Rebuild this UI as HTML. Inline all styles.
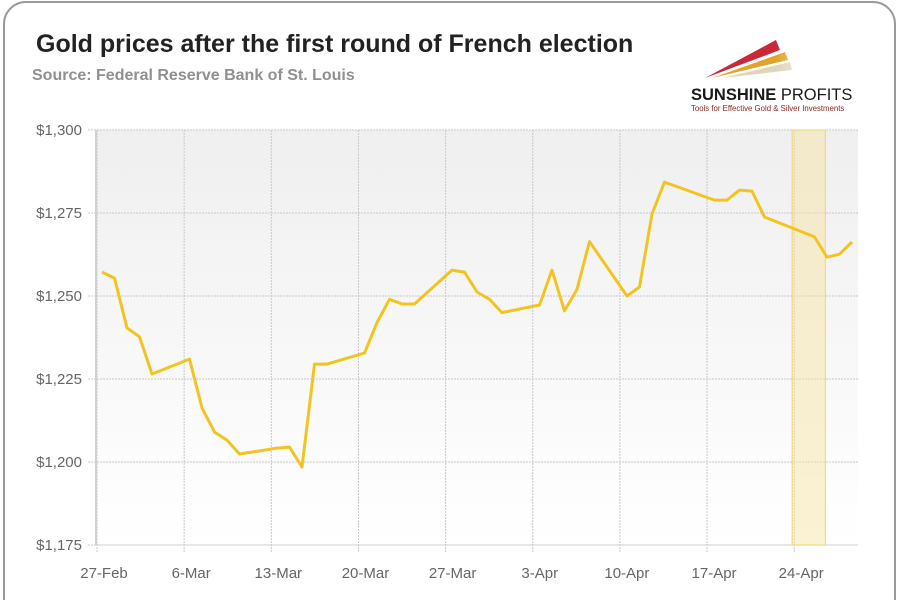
<!DOCTYPE html>
<html><head><meta charset="utf-8"><style>
body{margin:0;background:#fff;width:900px;height:600px;overflow:hidden;font-family:"Liberation Sans",sans-serif}
</style></head><body>
<svg id="chart" width="900" height="600" xmlns="http://www.w3.org/2000/svg">
<defs>
<linearGradient id="bg" x1="0" y1="0" x2="0" y2="1">
<stop offset="0" stop-color="#efefef"/><stop offset="1" stop-color="#ffffff"/>
</linearGradient>
<linearGradient id="fade" x1="0" y1="0" x2="1" y2="0">
<stop offset="0" stop-color="#fff" stop-opacity="0"/><stop offset="1" stop-color="#fff" stop-opacity="1"/>
</linearGradient>
</defs>
<rect x="4" y="2" width="891" height="620" rx="22" fill="#fff" stroke="#9a9a9a" stroke-width="2"/>
<text x="36" y="52" font-size="25" font-weight="bold" fill="#222">Gold prices after the first round of French election</text>
<text x="32" y="80" font-size="16" font-weight="bold" fill="#909090">Source: Federal Reserve Bank of St. Louis</text>
<g>
<polygon points="705,78 776,40 780,50" fill="#c8283a"/>
<polygon points="712,78 785,52 788,60" fill="#e2a32a"/>
<polygon points="722,78 790,62 792,70" fill="#ddd6b8"/>
<rect x="776" y="38" width="60" height="40" fill="url(#fade)"/>
<text x="691" y="100" font-size="16.5" font-weight="bold" fill="#1a1a1a">SUNSHINE <tspan font-weight="normal">PROFITS</tspan></text>
<text x="691" y="111" font-size="7.8" fill="#8a2a20">Tools for Effective Gold &amp; Silver Investments</text>
</g>
<g id="plot"></g>
</svg>
<script>
const dates = ["2017-02-27","2017-02-28","2017-03-01","2017-03-02","2017-03-03","2017-03-06","2017-03-07","2017-03-08","2017-03-09","2017-03-10","2017-03-13","2017-03-14","2017-03-15","2017-03-16","2017-03-17","2017-03-20","2017-03-21","2017-03-22","2017-03-23","2017-03-24","2017-03-27","2017-03-28","2017-03-29","2017-03-30","2017-03-31","2017-04-03","2017-04-04","2017-04-05","2017-04-06","2017-04-07","2017-04-10","2017-04-11","2017-04-12","2017-04-13","2017-04-17","2017-04-18","2017-04-19","2017-04-20","2017-04-21","2017-04-24","2017-04-25","2017-04-26","2017-04-27","2017-04-28"];
const prices = [1257.2,1255.4,1240.4,1237.7,1226.5,1231,1216.3,1209,1206.6,1202.4,1204.2,1204.5,1198.5,1229.5,1229.5,1232.8,1242,1249,1247.6,1247.6,1257.8,1257.2,1251.2,1249,1245,1247.3,1257.8,1245.5,1252,1266.4,1250,1252.7,1274.7,1284.3,1278.9,1278.9,1281.9,1281.6,1273.8,1269.3,1267.8,1261.7,1262.6,1266.3];
const yTicks = [1175,1200,1225,1250,1275,1300];
const yTickLabels = ["$1,175","$1,200","$1,225","$1,250","$1,275","$1,300"];
const xTicks = ["2017-02-27","2017-03-06","2017-03-13","2017-03-20","2017-03-27","2017-04-03","2017-04-10","2017-04-17","2017-04-24"];
const xTickLabels = ["27-Feb","6-Mar","13-Mar","20-Mar","27-Mar","3-Apr","10-Apr","17-Apr","24-Apr"];
const highlight = ["2017-04-23T20:00","2017-04-26T12:00"];

const NS="http://www.w3.org/2000/svg";
const L=96,R=858,T=130,B=545;
const t0=Date.parse("2017-02-27T00:00Z");
function dayOf(s){return (Date.parse(s.length>10?s+"Z":s+"T00:00Z")-t0)/86400000;}
function xs(s){return 97+dayOf(s)*12.45;}
function xp(s){return 102+dayOf(s)*12.5;}
function ys(v){return B-(v-1175)/125*(B-T);}
const g=document.getElementById('plot');
function mk(tag,attrs){const e=document.createElementNS(NS,tag);for(const k in attrs)e.setAttribute(k,attrs[k]);g.appendChild(e);return e;}
let e=mk('rect',{x:L,y:T,width:R-L,height:B-T,fill:'url(#bg)'});


yTicks.forEach((v,i)=>{
 const y=ys(v);
 let l=mk('line',{x1:L-8,x2:R,y1:y,y2:y,stroke:'#c8c8c8','stroke-dasharray':'2,1'});
 
 
 let t=mk('text',{x:82,y:y+5,'text-anchor':'end','font-size':15,fill:'#666'});
 t.textContent=yTickLabels[i];
 
 
});
xTicks.forEach((d,i)=>{
 const x=xs(d);
 let l=mk('line',{x1:x,x2:x,y1:T,y2:B+7,stroke:'#c8c8c8','stroke-dasharray':'2,1'});
 
 
 let t=mk('text',{x:x+7,y:578,'text-anchor':'middle','font-size':15,fill:'#666'});
 t.textContent=xTickLabels[i];
 
 
});
let ax=mk('line',{x1:L,x2:L,y1:T,y2:B,stroke:'#d0d0d0','stroke-width':2});


let bx=mk('line',{x1:L,x2:R,y1:B,y2:B,stroke:'#cfcfcf'});


const hx1=xs(highlight[0]),hx2=xs(highlight[1]);
let h=mk('rect',{x:hx1,y:T,width:hx2-hx1,height:B-T,fill:'#f7e2a0','fill-opacity':0.45,stroke:'#f2d470','stroke-width':1});


let pts=dates.map((d,i)=>xp(d).toFixed(1)+','+ys(prices[i]).toFixed(1)).join(' ');
let pl=mk('polyline',{points:pts,fill:'none',stroke:'#f2c422','stroke-width':3,'stroke-linejoin':'round'});


</script>
</body></html>
